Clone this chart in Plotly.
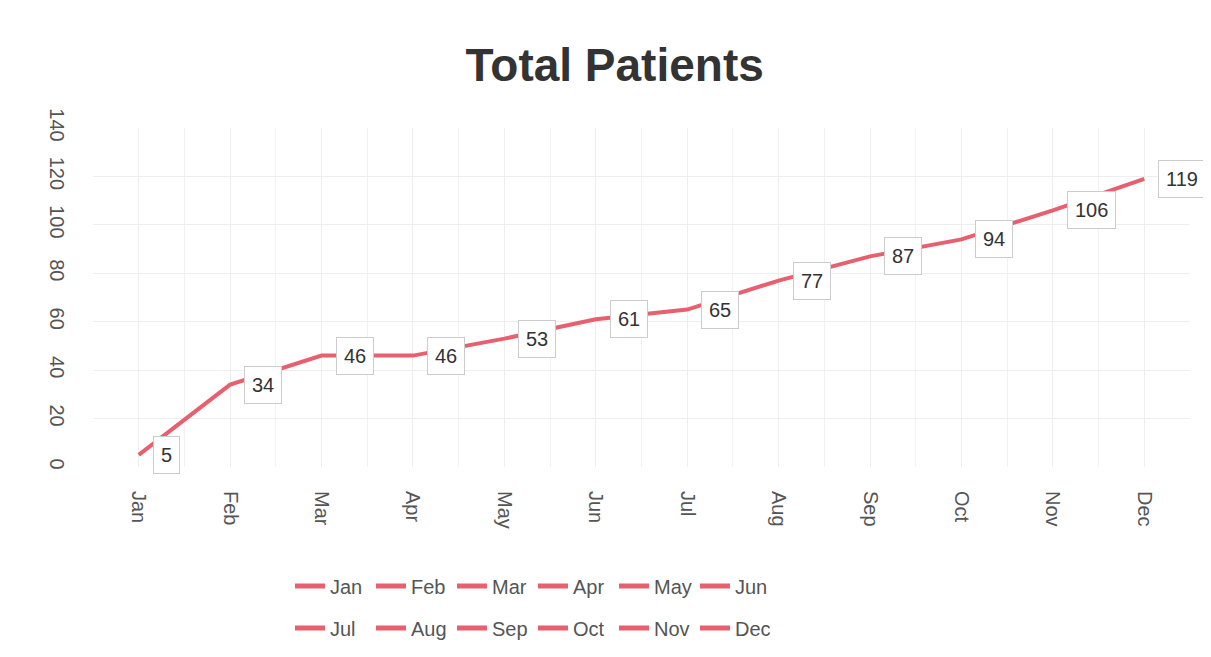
import plotly.graph_objects as go

# monthly totals
months = ['Jan', 'Feb', 'Mar', 'Apr', 'May', 'Jun',
          'Jul', 'Aug', 'Sep', 'Oct', 'Nov', 'Dec']
patients = [5, 34, 46, 46, 53, 61, 65, 77, 87, 94, 106, 119]
y_ticks = [0, 20, 40, 60, 80, 100, 120, 140]

line_color = '#e8606f'
text_color = '#555555'
font_family = 'Liberation Sans, Arial, sans-serif'

idx = list(range(len(months)))

fig = go.Figure()

# the actual line
fig.add_trace(go.Scatter(x=idx, y=patients, mode='lines',
                         line=dict(color=line_color, width=4),
                         showlegend=False, hoverinfo='skip'))

# legend entries, one per month, split into two rows
for i, m in enumerate(months):
    fig.add_trace(go.Scatter(x=[None], y=[None], mode='lines', name=m,
                             line=dict(color=line_color, width=5),
                             legend='legend' if i < 6 else 'legend2'))

# boxed value labels
for i, v in zip(idx, patients):
    fig.add_annotation(x=i, y=v, text=str(v), showarrow=False,
                       xanchor='left', yanchor='middle', xshift=14,
                       font=dict(size=20, color='#333333', family=font_family),
                       bgcolor='white', bordercolor='#cccccc', borderwidth=1,
                       borderpad=7)

legend_style = dict(orientation='h', xref='container', yref='container',
                    xanchor='left', yanchor='middle', entrywidth=36,
                    font=dict(size=20, color=text_color, family=font_family),
                    bgcolor='rgba(0,0,0,0)', itemwidth=30)

fig.update_layout(
    width=1211, height=657,
    paper_bgcolor='white', plot_bgcolor='white',
    margin=dict(l=85, r=29, t=120, b=198),
    title=dict(text='<b>Total Patients</b>', x=0.501, xanchor='center',
               y=1 - 57 / 657, yanchor='middle', yref='container',
               font=dict(size=46, color='#333333', family=font_family)),
    font=dict(family=font_family, color=text_color),
    legend=dict(x=282 / 1211, y=1 - 578 / 657, **legend_style),
    legend2=dict(x=282 / 1211, y=1 - 620 / 657, **legend_style),
)

fig.update_xaxes(range=[-0.5, len(months) - 0.5], tickvals=idx, ticktext=months,
                 tickangle=90, tickfont=dict(size=20, color=text_color),
                 showgrid=True, gridcolor='#eeeeee', zeroline=False,
                 showline=False, ticks='', ticklabelstandoff=23,
                 minor=dict(dtick=0.5, tick0=-0.5, showgrid=True, gridcolor='#f2f2f2'))
fig.update_yaxes(range=[0, 140], tickvals=y_ticks, tickangle=90,
                 tickfont=dict(size=20, color=text_color),
                 showgrid=True, gridcolor='#eeeeee', zeroline=False,
                 showline=False, ticks='', ticklabelstandoff=22)

fig.write_html('out.html')
